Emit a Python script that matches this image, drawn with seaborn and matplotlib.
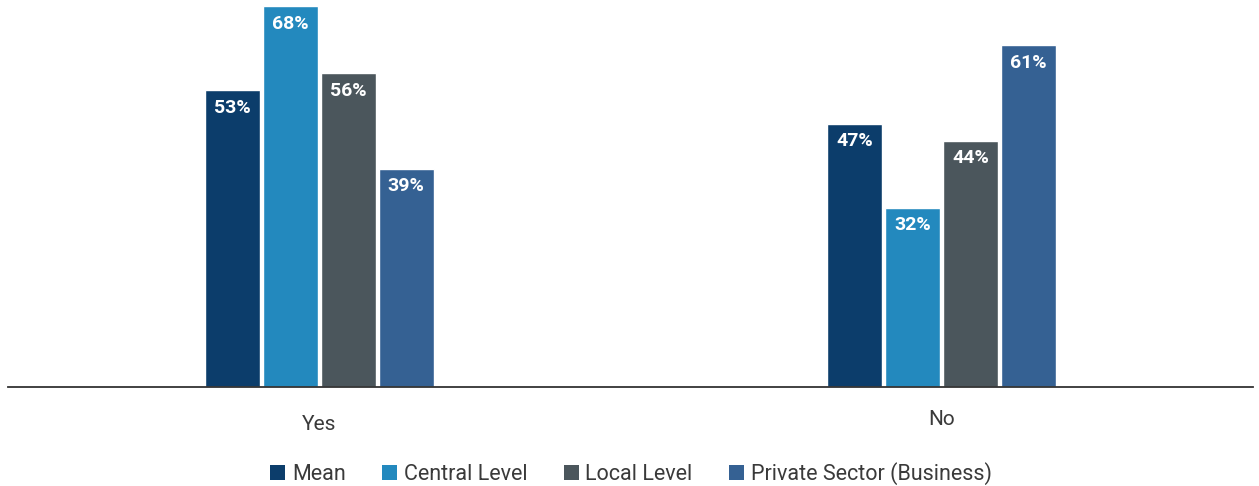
import matplotlib
matplotlib.use("Agg")
import matplotlib.pyplot as plt
import matplotlib.transforms as mtransforms
from matplotlib.patches import Patch
import seaborn as sns
import pandas as pd

# Survey answers by respondent group (percent)
answers = ["Yes", "No"]
groups = ["Mean", "Central Level", "Local Level", "Private Sector (Business)"]
mean_vals = [53, 47]
central_vals = [68, 32]
local_vals = [56, 44]
private_vals = [39, 61]
colors = ["#0c3d6b", "#2389be", "#4b565c", "#356193"]

rows = []
for g, vals in zip(groups, [mean_vals, central_vals, local_vals, private_vals]):
    for a, v in zip(answers, vals):
        rows.append({"answer": a, "group": g, "value": v})
df = pd.DataFrame(rows)

sns.set_theme(style="white")
plt.rcParams["font.family"] = ["Roboto", "DejaVu Sans"]

fig = plt.figure(figsize=(12.59, 4.86), dpi=100)
ax = fig.add_axes([8 / 1259, 99 / 486, 1245 / 1259, 387 / 486])

sns.barplot(data=df, x="answer", y="value", hue="group", order=answers,
            hue_order=groups, palette=colors, width=0.372, gap=0.05,
            saturation=1, legend=False, ax=ax)

ax.set_xlim(-0.5, 1.5)
ax.set_ylim(0, 69.1)
ax.set_xlabel("")
ax.set_ylabel("")
ax.set_yticks([])
for s in ["top", "left", "right"]:
    ax.spines[s].set_visible(False)
ax.spines["bottom"].set_color("#333333")
ax.spines["bottom"].set_linewidth(1.3)
ax.tick_params(axis="x", length=0, pad=20, labelsize=15, labelcolor="#3a3a3a")

# "No" sits slightly higher than "Yes"
for lab in ax.get_xticklabels():
    if lab.get_text() == "No":
        lab.set_transform(lab.get_transform() +
                          mtransforms.ScaledTranslation(0, 5 / 100, fig.dpi_scale_trans))

# value labels inside the top of each bar
for container in ax.containers:
    for bar in container:
        h = bar.get_height()
        ax.annotate(f"{h:.0f}%", (bar.get_x() + bar.get_width() / 2, h),
                    xytext=(0, -12.5), textcoords="offset points",
                    ha="center", va="center", color="white",
                    fontsize=14, fontweight="bold")

handles = [Patch(facecolor=c, edgecolor="none") for c in colors]
fig.legend(handles, groups, loc="center", bbox_to_anchor=(631 / 1259, 1 - 474 / 486),
           ncol=4, frameon=False, fontsize=15.5, handlelength=0.7, handleheight=0.7,
           handletextpad=0.3, columnspacing=1.7, labelcolor="#3a3a3a")

fig.savefig("out.png", dpi=100)
